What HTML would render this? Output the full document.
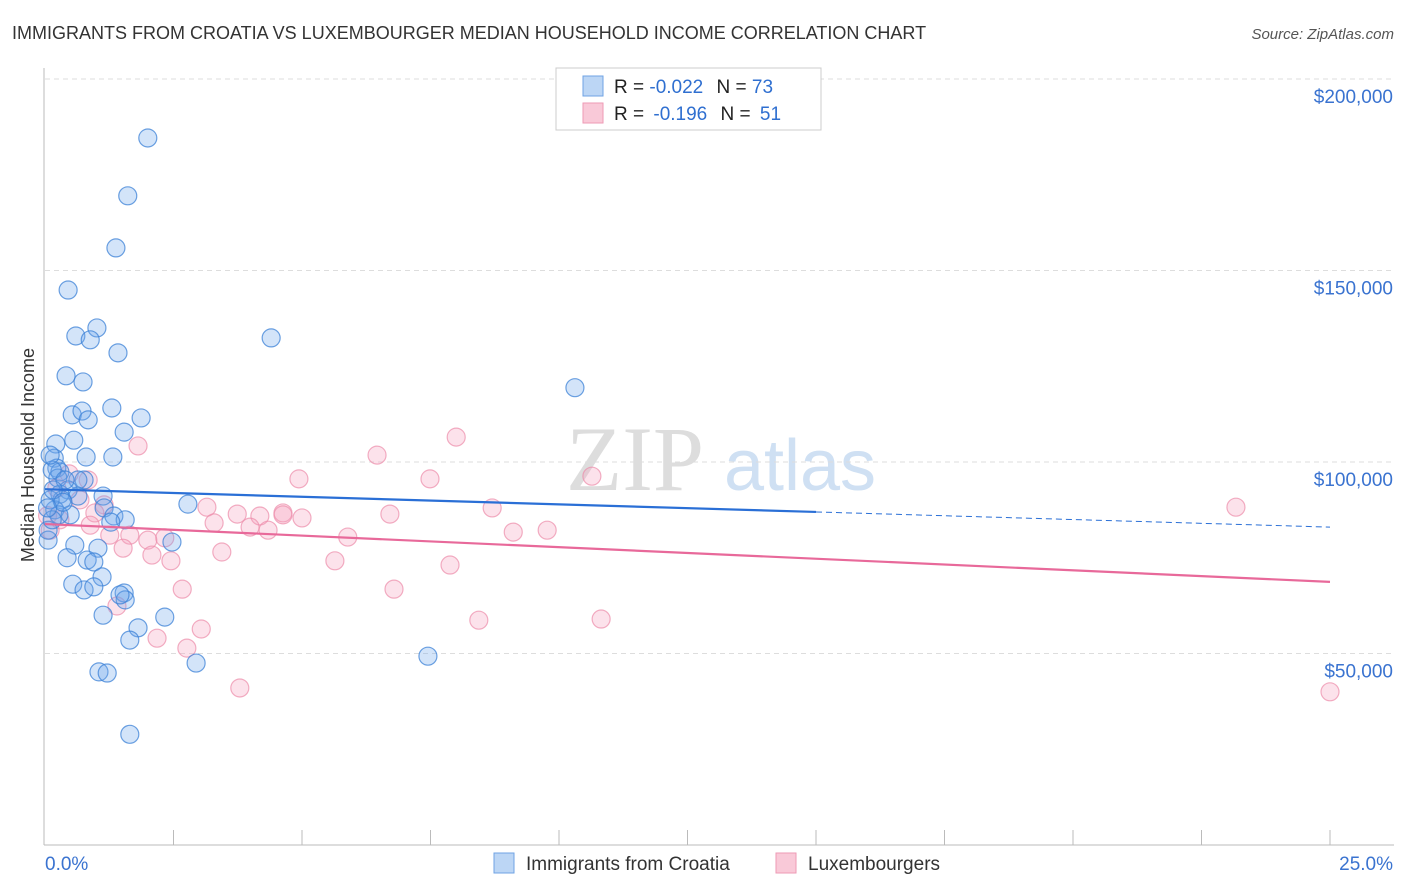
<!DOCTYPE html>
<html><head><meta charset="utf-8"><style>
body{margin:0;background:#fff;font-family:"Liberation Sans",sans-serif;}
svg{display:block}
</style></head><body>
<svg id="chart" width="1406" height="892" xmlns="http://www.w3.org/2000/svg">
<text x="12" y="39" font-size="18" fill="#333">IMMIGRANTS FROM CROATIA VS LUXEMBOURGER MEDIAN HOUSEHOLD INCOME CORRELATION CHART</text>
<text x="1394" y="39" font-size="15" fill="#555" text-anchor="end" font-style="italic">Source: ZipAtlas.com</text>
<g>
<text x="635" y="490" font-size="92" fill="#ddd" text-anchor="middle" font-family="Liberation Serif,serif">ZIP</text>
<text x="800" y="490" font-size="72" fill="#cfe0f3" text-anchor="middle">atlas</text>
</g>
<g id="grid"></g>
<g id="axes"></g>
<g id="points"></g>
<g id="trends"></g>
<text transform="translate(34,455) rotate(-90)" font-size="18" fill="#333" text-anchor="middle">Median Household Income</text>
<g>
<rect x="556" y="68" width="265" height="62" fill="#fff" stroke="#ccc"/>
<rect x="583" y="76" width="20" height="20" fill="#bcd6f5" stroke="#6fa3e4"/>
<rect x="583" y="103" width="20" height="20" fill="#f9c9d8" stroke="#ee9ab5"/>
<text x="614" y="93" font-size="19" fill="#222">R = <tspan fill="#2f6fd0">-0.022</tspan>   <tspan dx="8">N = </tspan><tspan fill="#2f6fd0">73</tspan></text>
<text x="614" y="120" font-size="19" fill="#222">R =  <tspan fill="#2f6fd0" dx="4">-0.196</tspan>   <tspan dx="8">N = </tspan><tspan fill="#2f6fd0" dx="4">51</tspan></text>
</g>
<g>
<rect x="494" y="853" width="20" height="20" fill="#bcd6f5" stroke="#6fa3e4"/>
<text x="526" y="870" font-size="19" fill="#333">Immigrants from Croatia</text>
<rect x="776" y="853" width="20" height="20" fill="#f9c9d8" stroke="#ee9ab5"/>
<text x="808" y="870" font-size="19" fill="#333">Luxembourgers</text>
</g>
</svg>
<script>
const yTicks=[50000,100000,150000,200000];
const yTickLabels=["$50,000","$100,000","$150,000","$200,000"];
const xTickLabels=["0.0%","25.0%"];
const croatiaX=[2.00,1.61,1.38,0.45,1.01,0.60,0.88,1.42,0.41,0.74,4.40,10.31,0.53,0.72,1.30,1.87,0.84,1.54,0.56,0.21,0.18,0.80,1.32,0.23,0.29,0.76,0.64,0.25,0.45,0.29,0.64,1.13,0.33,2.78,1.15,0.19,0.49,1.34,1.56,1.28,0.06,2.47,0.58,1.03,0.43,0.82,0.95,1.11,0.54,0.76,0.95,1.54,1.56,1.13,2.33,1.81,1.65,7.45,2.94,1.05,1.21,1.65,0.10,0.06,0.14,0.39,0.16,0.27,1.46,0.10,0.14,0.35,0.05];
const croatiaY=[184.6,169.5,155.9,144.9,135.0,132.9,131.9,128.5,122.5,120.9,132.4,119.4,112.3,113.3,114.1,111.5,111.0,107.8,105.7,104.7,101.0,101.3,101.3,98.4,97.4,95.3,95.3,95.8,92.7,91.6,91.1,91.1,90.1,89.0,88.0,87.5,86.2,85.9,84.9,84.3,79.6,79.1,78.3,77.5,75.0,74.4,73.9,70.0,68.1,66.6,67.4,65.8,64.0,60.0,59.5,56.7,53.5,49.3,47.5,45.2,44.9,28.9,90.1,82.2,97.9,95.3,92.7,86.2,65.3,101.8,84.9,89.5,88.0];
const luxX=[1.81,8.00,6.46,4.94,7.49,10.64,23.17,0.47,0.23,0.84,1.15,0.97,3.15,3.74,4.18,4.63,5.00,6.71,8.70,3.29,3.99,4.34,1.65,2.33,2.00,5.89,9.11,9.77,1.52,2.08,3.44,2.45,5.64,7.88,2.67,6.79,1.40,3.04,2.18,2.76,8.44,10.82,3.79,25.0,0.29,0.10,0.68,0.88,1.26,4.63,0.05];
const luxY=[104.2,106.5,101.8,95.6,95.6,96.3,88.2,96.9,93.2,95.3,88.8,86.7,88.2,86.4,85.9,86.7,85.4,86.4,88.0,84.1,83.0,82.2,80.9,80.2,79.6,80.4,81.7,82.2,77.5,75.7,76.5,74.2,74.2,73.1,66.8,66.8,62.4,56.4,54.0,51.4,58.7,59.0,41.0,40.0,84.9,82.2,90.1,83.5,80.9,86.2,86.0];
const croatiaTrend=[92.9,83.0];
const luxTrend=[83.8,68.7];
const NS="http://www.w3.org/2000/svg";
function xs(p){return 45+p*51.4;}
function ys(v){return 79+(200000-v)/50000*191.5;}
function mk(tag,attrs,parent){const e=document.createElementNS(NS,tag);for(const k in attrs)e.setAttribute(k,attrs[k]);parent.appendChild(e);return e;}
const grid=document.getElementById('grid'),axes=document.getElementById('axes'),pts=document.getElementById('points'),tr=document.getElementById('trends');
yTicks.forEach((t,i)=>{
  const l=mk('line',{x1:45,x2:1394,y1:ys(t),y2:ys(t),stroke:'#ddd','stroke-dasharray':'5,4'},grid);
  
  
  const tx=mk('text',{x:1393,y:ys(t)+24,'font-size':19,fill:'#3a73d0','text-anchor':'end'},axes);
  tx.textContent=yTickLabels[i];
  
  
});
const ax=mk('line',{x1:44,x2:44,y1:68,y2:845,stroke:'#bbb'},axes);


const bx=mk('line',{x1:44,x2:1394,y1:845,y2:845,stroke:'#bbb'},axes);


for(let i=1;i<=10;i++){
  const t=mk('line',{x1:xs(i*2.5),x2:xs(i*2.5),y1:830,y2:845,stroke:'#bbb'},axes);
  
  
}
[[0,'start',45],[25,'end',1393]].forEach((a,i)=>{
  const tx=mk('text',{x:a[2],y:870,'font-size':19,fill:'#3a73d0','text-anchor':a[1]},axes);
  tx.textContent=xTickLabels[i];
  
  
});
function dots(X,Y,fill,stroke,name){
  X.forEach((x,i)=>{
    const c=mk('circle',{cx:xs(x),cy:ys(Y[i]*1000),r:9,fill:fill,stroke:stroke,'stroke-width':1.2},pts);
    
    
  });
}
dots(luxX,luxY,'rgba(244,160,190,0.3)','rgba(236,140,170,0.7)','luxembourger-point');
dots(croatiaX,croatiaY,'rgba(110,165,235,0.3)','rgba(60,130,215,0.75)','croatia-point');
function lineAt(tr0,p){return tr0[0]+(tr0[1]-tr0[0])*p/25;}
const b1=mk('line',{x1:xs(0),y1:ys(lineAt(croatiaTrend,0)*1000),x2:xs(15),y2:ys(lineAt(croatiaTrend,15)*1000),stroke:'#2a6fd6','stroke-width':2.2},tr);


const b2=mk('line',{x1:xs(15),y1:ys(lineAt(croatiaTrend,15)*1000),x2:xs(25),y2:ys(lineAt(croatiaTrend,25)*1000),stroke:'#2a6fd6','stroke-width':1,'stroke-dasharray':'6,4'},tr);


const p1=mk('line',{x1:xs(0),y1:ys(luxTrend[0]*1000),x2:xs(25),y2:ys(luxTrend[1]*1000),stroke:'#e8699a','stroke-width':2.2},tr);


</script>
</body></html>
